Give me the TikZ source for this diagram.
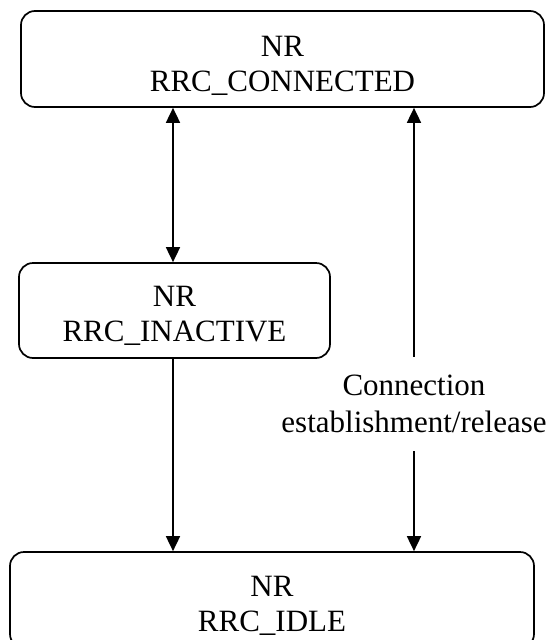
\documentclass[tikz,border=0pt]{standalone}
\usepackage{fontspec}
\setmainfont{Liberation Serif}
\usetikzlibrary{arrows.meta}
\begin{document}
\begin{tikzpicture}[x=1pt,y=-1pt,
  state/.style={draw, line width=1.7pt, rounded corners=14pt, inner sep=0pt},
  txt/.style={align=center, font=\fontsize{31}{35.5}\selectfont, inner sep=0pt},
  tip/.tip={Triangle[length=15pt,width=14pt]},
  link/.style={line width=1.7pt}]
\useasboundingbox (0,0) rectangle (555,640);
\node[state, minimum width=523pt, minimum height=96pt] (conn) at (282.5,59) {};
\node[txt] (connt) at (282.5,66) {NR\\RRC\_CONNECTED};
\node[state, minimum width=311pt, minimum height=95pt] (inact) at (174.5,310.5) {};
\node[txt] (inactt) at (174.5,316) {NR\\RRC\_INACTIVE};
\node[state, minimum width=524pt, minimum height=96pt] (idle) at (272,600) {};
\node[txt] (idlet) at (272,606) {NR\\RRC\_IDLE};
\node[txt, inner ysep=18pt, font=\fontsize{31}{37}\selectfont] (lbl) at (414,404) {Connection\\establishment/release};
\coordinate (la) at (173,0);
\draw[link, tip-tip] (conn.south -| la) -- (inact.north -| la);
\draw[link, -tip] (inact.south -| la) -- (idle.north -| la);
\draw[link, tip-] (conn.south -| lbl) -- (lbl.north);
\draw[link, -tip] (lbl.south) -- (idle.north -| lbl);
\end{tikzpicture}
\end{document}
